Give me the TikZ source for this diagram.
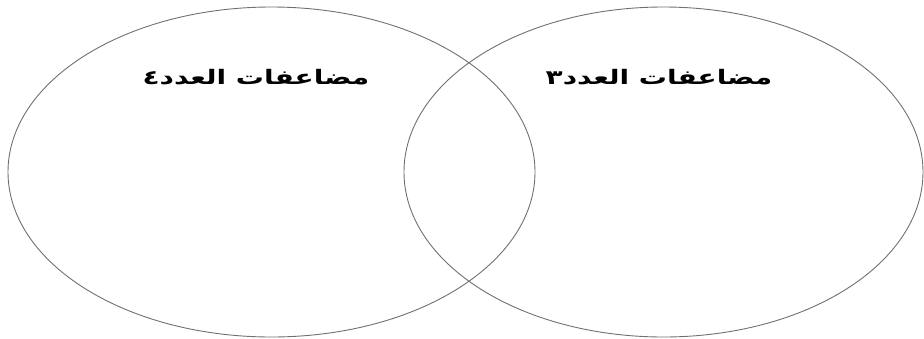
\documentclass[tikz,border=0pt]{standalone}
\usepackage{fontspec}
\usetikzlibrary{shapes.geometric}
\TeXXeTstate=1
\newfontfamily\arabicfont[Script=Arabic,FakeStretch=1.4]{DejaVu Sans}
\definecolor{ringgrey}{HTML}{707070}
\tikzset{
  setring/.style={ellipse, draw=ringgrey, line width=0.9pt, inner sep=0pt,
                  minimum width=#1, minimum height=330pt},
  setring/.default=526pt,
  setlbl/.style={font=\arabicfont\bfseries\fontsize{20}{24}\selectfont,
                 inner sep=0pt, text=black},
}
\begin{document}
\begin{tikzpicture}[x=1pt,y=-1pt]
  \useasboundingbox (0,0) rectangle (924,338);
  % the two sets
  \node[setring=527pt] (fourset)  at (271.5,172) {};
  \node[setring=519pt] (threeset) at (663.5,172) {};

  % set names
  \node[setlbl] (fourname)  at (256,77) {\beginR مضاعفات العدد٤\endR};
  \node[setlbl] (threename) at (659,77) {\beginR مضاعفات العدد٣\endR};
\end{tikzpicture}
\end{document}
